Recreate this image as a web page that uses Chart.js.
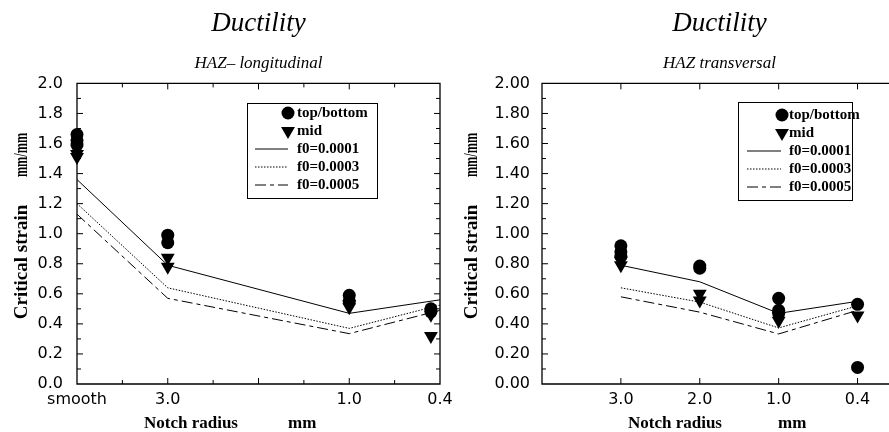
<!DOCTYPE html>
<html>
<head>
<meta charset="utf-8">
<script src="https://cdn.jsdelivr.net/npm/chart.js@4/dist/chart.umd.min.js"></script>
<style>
  html, body { margin: 0; padding: 0; background: #fff; overflow: hidden; width: 889px; height: 432px; }
  canvas { position: absolute; top: 0; }
  #lon-chart { left: 0; }
  #tra-chart { left: 445px; }
</style>
</head>
<body>
<canvas id="lon-chart" width="460" height="432"></canvas>
<canvas id="tra-chart" width="460" height="432"></canvas>
<script>
// Ductility - critical strain vs notch radius

// HAZ longitudinal (left)
const lonTickPos = [0, 1, 3, 4];
const lonTickLabels = ['smooth', '3.0', '1.0', '0.4'];
const lonTopX = [0, 0, 0, 1, 1, 3, 3, 3.9, 3.9];
const lonTopY = [1.66, 1.62, 1.59, 0.99, 0.94, 0.59, 0.55, 0.50, 0.48];
const lonMidX = [0, 0, 1, 1, 3, 3, 3.9, 3.9];
const lonMidY = [1.53, 1.51, 0.84, 0.78, 0.53, 0.51, 0.46, 0.32];
const lonLineX = [0, 1, 3, 4];
const lonF1 = [1.36, 0.79, 0.47, 0.56];
const lonF3 = [1.20, 0.64, 0.37, 0.525];
const lonF5 = [1.13, 0.57, 0.335, 0.49];

// HAZ transversal (right)
const traTickPos = [1, 2, 3, 4];
const traTickLabels = ['3.0', '2.0', '1.0', '0.4'];
const traTopX = [1, 1, 1, 2, 2, 3, 3, 3, 4, 4];
const traTopY = [0.92, 0.88, 0.85, 0.785, 0.77, 0.57, 0.49, 0.47, 0.53, 0.11];
const traMidX = [1, 1, 2, 2, 3, 3, 4];
const traMidY = [0.82, 0.79, 0.60, 0.555, 0.45, 0.42, 0.455];
const traLineX = [1, 2, 3, 4];
const traF1 = [0.79, 0.68, 0.47, 0.55];
const traF3 = [0.64, 0.545, 0.373, 0.52];
const traF5 = [0.58, 0.478, 0.333, 0.49];

const serif = 'Liberation Serif';
const sans = 'DejaVu Sans';

const toXY = (xs, ys) => xs.map((x, i) => ({ x: x, y: ys[i] }));

// marker used in the legend box (same shape as the chart points)
function drawMark(ctx, style, x, y) {
  ctx.beginPath();
  if (style === 'circle') {
    ctx.arc(x, y, 6.5, 0, Math.PI * 2);
  } else {
    ctx.moveTo(x, y + 8);
    ctx.lineTo(x + 6.93, y - 4);
    ctx.lineTo(x - 6.93, y - 4);
    ctx.closePath();
  }
  ctx.fill();
}

// frame + inside tick marks + axis titles
const frameTicks = {
  id: 'frameTicks',
  afterDraw(chart, args, o) {
    const { ctx, chartArea: a } = chart;
    const x = chart.scales.x;
    const y = chart.scales.y;
    ctx.save();
    ctx.strokeStyle = '#000';
    ctx.lineWidth = 1.3;
    ctx.beginPath();
    if (o.rightBorder) {
      ctx.rect(a.left, a.top, a.right - a.left, a.bottom - a.top);
    } else {
      ctx.moveTo(a.right, a.top);
      ctx.lineTo(a.left, a.top);
      ctx.lineTo(a.left, a.bottom);
      ctx.lineTo(a.right, a.bottom);
    }
    ctx.stroke();

    ctx.lineWidth = 1;
    ctx.beginPath();
    for (let i = 1; i < 20; i++) {
      const py = y.getPixelForValue(i / 10);
      const len = i % 2 === 0 ? 6 : 4;
      ctx.moveTo(a.left, py);
      ctx.lineTo(a.left + len, py);
      if (o.rightBorder) {
        ctx.moveTo(a.right, py);
        ctx.lineTo(a.right - len, py);
      }
    }
    o.xTicks.forEach(([v, len]) => {
      const px = x.getPixelForValue(v);
      ctx.moveTo(px, a.top);
      ctx.lineTo(px, a.top + len);
      ctx.moveTo(px, a.bottom);
      ctx.lineTo(px, a.bottom - len);
    });
    ctx.stroke();

    // axis titles
    ctx.fillStyle = '#000';
    ctx.font = 'bold 17px "' + serif + '"';
    ctx.textBaseline = 'middle';
    ctx.textAlign = 'left';
    ctx.fillText('Notch radius', o.xTitle[0], 424);
    ctx.fillText('mm', o.xTitle[1], 424);
    ctx.translate(o.yTitleX, 0);
    ctx.rotate(-Math.PI / 2);
    ctx.textAlign = 'center';
    ctx.font = 'bold 19px "' + serif + '"';
    ctx.fillText('Critical strain', -262, 0);
    // "mm/mm" is squeezed in the original
    ctx.scale(0.68, 1);
    ctx.font = 'bold 18px "' + serif + '"';
    ctx.fillText('mm/mm', -155 / 0.68, 0);
    ctx.restore();
  },
};

// legend box inside the plot
const legendBox = {
  id: 'legendBox',
  afterDraw(chart, args, o) {
    const ctx = chart.ctx;
    ctx.save();
    ctx.fillStyle = '#fff';
    ctx.fillRect(o.x, o.y, o.w, o.h);
    ctx.strokeStyle = '#000';
    ctx.lineWidth = 1;
    ctx.strokeRect(o.x + 0.5, o.y + 0.5, o.w, o.h);
    ctx.fillStyle = '#000';
    ctx.font = 'bold 15px "' + serif + '"';
    ctx.textBaseline = 'middle';
    ctx.textAlign = 'left';
    chart.data.datasets.forEach((ds, i) => {
      const cy = o.y + o.first + i * o.step;
      if (ds.showLine) {
        ctx.setLineDash(ds.borderDash || []);
        ctx.beginPath();
        ctx.moveTo(o.line0, cy);
        ctx.lineTo(o.line1, cy);
        ctx.stroke();
        ctx.setLineDash([]);
      } else {
        drawMark(ctx, ds.pointStyle, o.markX, cy);
      }
      ctx.fillText(ds.label, o.textX, cy);
    });
    ctx.restore();
  },
};

function makeDatasets(topX, topY, midX, midY, lineX, f1, f3, f5) {
  const lineDs = (label, ys, dash) => ({
    label: label,
    data: toXY(lineX, ys),
    showLine: true,
    borderColor: '#000',
    borderWidth: 1,
    borderDash: dash,
    pointRadius: 0,
    tension: 0,
  });
  return [
    {
      label: 'top/bottom',
      data: toXY(topX, topY),
      showLine: false,
      pointStyle: 'circle',
      pointRadius: 6.5,
      backgroundColor: '#000',
      borderColor: '#000',
      borderWidth: 0,
      clip: false,
    },
    {
      label: 'mid',
      data: toXY(midX, midY),
      showLine: false,
      pointStyle: 'triangle',
      pointRotation: 180,
      pointRadius: 8,
      backgroundColor: '#000',
      borderColor: '#000',
      borderWidth: 0,
      clip: false,
    },
    lineDs('f0=0.0001', f1, []),
    lineDs('f0=0.0003', f3, [1.5, 1.5]),
    lineDs('f0=0.0005', f5, [11, 4, 4, 4]),
  ];
}

function makeOptions(cfg) {
  return {
    responsive: false,
    animation: false,
    layout: { padding: { left: 0, right: cfg.padRight, top: 0, bottom: 0 } },
    plugins: {
      legend: { display: false },
      tooltip: { enabled: false },
      title: {
        display: true,
        text: 'Ductility',
        fullSize: false,
        color: '#000',
        font: { family: serif, size: 27, style: 'italic', weight: 'normal' },
        padding: { top: 8, bottom: 0 },
      },
      subtitle: {
        display: true,
        text: cfg.subtitle,
        fullSize: false,
        color: '#000',
        font: { family: serif, size: 17, style: 'italic', weight: 'normal' },
        padding: { top: 12.8, bottom: 9.8 },
      },
      frameTicks: cfg.frame,
      legendBox: cfg.legend,
    },
    scales: {
      x: {
        type: 'linear',
        min: 0,
        max: cfg.xMax,
        grid: { display: false, drawTicks: false },
        border: { display: false },
        afterBuildTicks: (scale) => {
          scale.ticks = cfg.tickPos.map((v) => ({ value: v }));
        },
        afterFit: (scale) => {
          scale.height = 48;
        },
        ticks: {
          autoSkip: false,
          maxRotation: 0,
          padding: 6,
          color: '#000',
          font: { family: sans, size: 16 },
          callback: (v) => cfg.tickLabels[cfg.tickPos.indexOf(v)],
        },
      },
      y: {
        min: 0,
        max: 2,
        grid: { display: false, drawTicks: false },
        border: { display: false },
        afterFit: (scale) => {
          scale.width = cfg.yWidth;
        },
        ticks: {
          stepSize: 0.2,
          padding: cfg.yPad,
          color: '#000',
          font: { family: sans, size: 16 },
          callback: (v) => v.toFixed(cfg.digits),
        },
      },
    },
  };
}

// left: HAZ- longitudinal
new Chart(document.querySelector('#lon-chart'), {
  type: 'scatter',
  data: {
    datasets: makeDatasets(lonTopX, lonTopY, lonMidX, lonMidY, lonLineX, lonF1, lonF3, lonF5),
  },
  options: makeOptions({
    subtitle: 'HAZ\u2013 longitudinal',
    xMax: 4,
    tickPos: lonTickPos,
    tickLabels: lonTickLabels,
    yWidth: 77,
    yPad: 14,
    digits: 1,
    padRight: 20,
    frame: {
      rightBorder: true,
      xTicks: [0.5, 1, 1.5, 2, 2.5, 3, 3.5].map((v) => [v, v % 1 === 0 ? 6 : 4]),
      xTitle: [144, 288],
      yTitleX: 22,
    },
    legend: { x: 247, y: 103, w: 130, h: 95, first: 10, step: 18, markX: 288, textX: 297, line0: 255, line1: 288 },
  }),
  plugins: [frameTicks, legendBox],
});

// right: HAZ transversal
new Chart(document.querySelector('#tra-chart'), {
  type: 'scatter',
  data: {
    datasets: makeDatasets(traTopX, traTopY, traMidX, traMidY, traLineX, traF1, traF3, traF5),
  },
  options: makeOptions({
    subtitle: 'HAZ transversal',
    xMax: 4.5,
    tickPos: traTickPos,
    tickLabels: traTickLabels,
    yWidth: 97,
    yPad: 12,
    digits: 2,
    padRight: 3,
    frame: {
      rightBorder: false,
      xTicks: [1, 2, 3, 4].map((v) => [v, 6]),
      xTitle: [183, 333],
      yTitleX: 27,
    },
    legend: { x: 293, y: 102, w: 114, h: 98, first: 13, step: 18, markX: 337, textX: 344, line0: 302, line1: 336 },
  }),
  plugins: [frameTicks, legendBox],
});
</script>
</body>
</html>
